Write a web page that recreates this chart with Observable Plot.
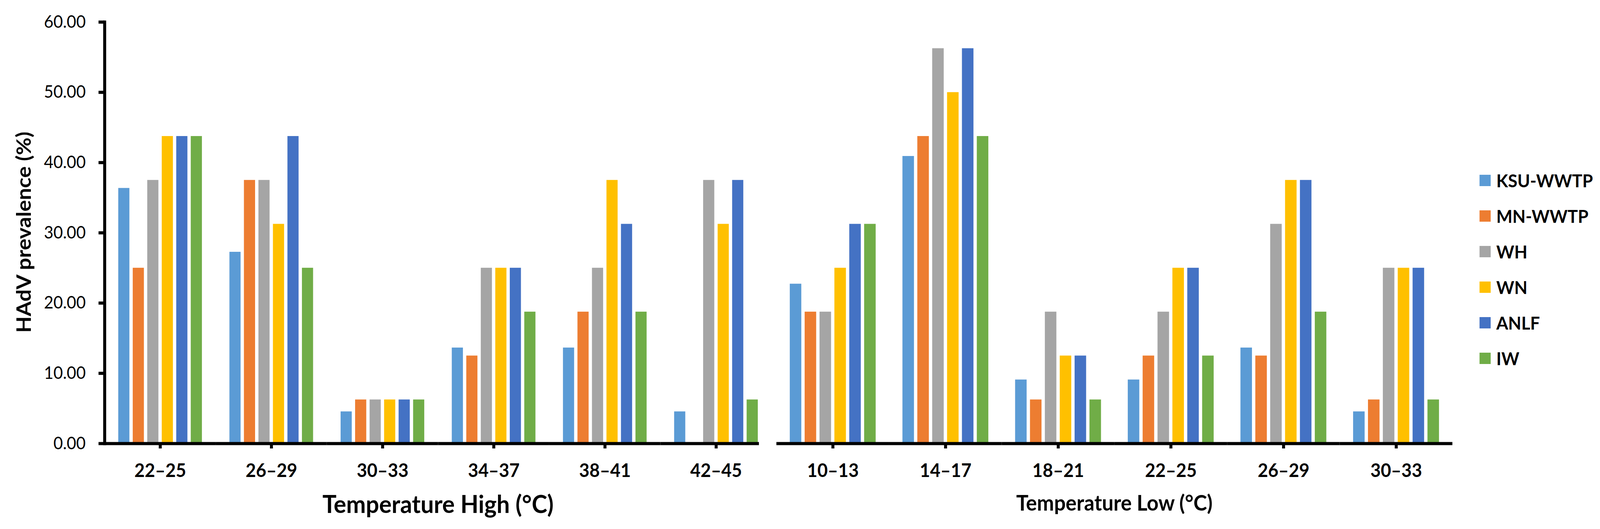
<!DOCTYPE html>
<html>
<head>
<meta charset="utf-8">
<script src="https://cdn.jsdelivr.net/npm/d3@7"></script>
<script src="https://cdn.jsdelivr.net/npm/@observablehq/plot@0.6"></script>
<style>
html, body { margin: 0; padding: 0; background: #fff; overflow: hidden; }
#root { position: absolute; left: 0; top: 0; width: 4303px; height: 1353px; overflow: hidden; font-family: Lato, sans-serif; color: #000; transform-origin: 0 0; }
.wrap { position: absolute; top: 0; height: 1353px; overflow: hidden; }
.title { position: absolute; white-space: nowrap; font-weight: 700; line-height: 1; transform: translateX(-50%); }
.ytitle { position: absolute; white-space: nowrap; font-weight: 700; line-height: 1; font-size: 55px; transform: translate(-50%, -50%) rotate(-90deg); }
#legend { position: absolute; left: 3979px; top: 416px; }
#legend .row { display: flex; align-items: center; height: 91px; }
#legend .sw { width: 30px; height: 29px; margin-right: 15px; }
#legend .lb { font-size: 46px; font-weight: 700; line-height: 1; white-space: nowrap; }
</style>
</head>
<body>
<div id="root"></div>
<script>
// ---- data ----
const series = ["KSU-WWTP", "MN-WWTP", "WH", "WN", "ANLF", "IW"];
const colors = ["#5B9BD5", "#ED7D31", "#A5A5A5", "#FFC000", "#4472C4", "#70AD47"];
const highGroups = ["22–25", "26–29", "30–33", "34–37", "38–41", "42–45"];
const lowGroups = ["10–13", "14–17", "18–21", "22–25", "26–29", "30–33"];
const yTicks = [0, 10, 20, 30, 40, 50, 60];
const highTitle = "Temperature High (°C)";
const lowTitle = "Temperature Low (°C)";
const yTitle = "HAdV prevalence (%)";

// values per series, in group order (Temperature High)
const highKSU  = [36.36, 27.27, 4.55, 13.64, 13.64, 4.55];
const highMN   = [25.00, 37.50, 6.25, 12.50, 18.75, 0.00];
const highWH   = [37.50, 37.50, 6.25, 25.00, 25.00, 37.50];
const highWN   = [43.75, 31.25, 6.25, 25.00, 37.50, 31.25];
const highANLF = [43.75, 43.75, 6.25, 25.00, 31.25, 37.50];
const highIW   = [43.75, 25.00, 6.25, 18.75, 18.75, 6.25];
// values per series, in group order (Temperature Low)
const lowKSU  = [22.73, 40.91, 9.09, 9.09, 13.64, 4.55];
const lowMN   = [18.75, 43.75, 6.25, 12.50, 12.50, 6.25];
const lowWH   = [18.75, 56.25, 18.75, 18.75, 31.25, 25.00];
const lowWN   = [25.00, 50.00, 12.50, 25.00, 37.50, 25.00];
const lowANLF = [31.25, 56.25, 12.50, 25.00, 37.50, 25.00];
const lowIW   = [31.25, 43.75, 6.25, 12.50, 18.75, 6.25];

function table(groups, cols) {
  const rows = [];
  groups.forEach((g, i) => series.forEach((s, j) => rows.push({group: g, series: s, value: cols[j][i]})));
  return rows;
}
const highRows = table(highGroups, [highKSU, highMN, highWH, highWN, highANLF, highIW]);
const lowRows = table(lowGroups, [lowKSU, lowMN, lowWH, lowWN, lowANLF, lowIW]);

function panel(rows, groups, width, marginLeft, withY) {
  const marks = [
    Plot.barY(rows, {fx: "group", x: "series", y: "value", fill: "series"}),
    Plot.ruleY([0], {stroke: "#000", strokeWidth: 8}),
    Plot.axisFx({anchor: "bottom", label: null, tickSize: 13, tickPadding: 38, strokeWidth: 8,
                 fontSize: 48, fontWeight: 700, fill: "#000"})
  ];
  if (withY) {
    marks.push(
      Plot.frame({anchor: "left", facetAnchor: "left", stroke: "#000", strokeWidth: 8}),
      Plot.axisY({ticks: yTicks, tickFormat: d3.format(".2f"), tickSize: 16, tickPadding: 35,
                  strokeWidth: 8, fontSize: 44, label: null, fill: "#000"})
    );
  }
  return Plot.plot({
    width, height: 1353,
    marginTop: 56, marginBottom: 219, marginLeft, marginRight: 0,
    style: "max-width:none;font-family:Lato,sans-serif;background:transparent;",
    fx: {domain: groups, padding: 0, label: null, axis: null},
    x: {domain: series, paddingInner: 0.22, paddingOuter: 0.86, axis: null},
    y: {domain: [0, 60], axis: null},
    color: {domain: series, range: colors},
    marks
  });
}

const root = document.getElementById("root");

const leftWrap = document.createElement("div");
leftWrap.className = "wrap";
leftWrap.style.left = "0px";
leftWrap.style.width = "2041px";
leftWrap.appendChild(panel(highRows, highGroups, 2075, 281, true));
root.appendChild(leftWrap);

const rightWrap = document.createElement("div");
rightWrap.className = "wrap";
rightWrap.style.left = "2086px";
rightWrap.style.width = "1830px";
rightWrap.appendChild(panel(lowRows, lowGroups, 1822, 0, false));
root.appendChild(rightWrap);

// axis titles
const t1 = document.createElement("div");
t1.className = "title"; t1.textContent = highTitle;
t1.style.left = "1178px"; t1.style.top = "1256px"; t1.style.fontSize = "63px";
root.appendChild(t1);

const t2 = document.createElement("div");
t2.className = "title"; t2.textContent = lowTitle;
t2.style.left = "2997px"; t2.style.top = "1258px"; t2.style.fontSize = "55px";
root.appendChild(t2);

const t3 = document.createElement("div");
t3.className = "ytitle"; t3.textContent = yTitle;
t3.style.left = "62px"; t3.style.top = "594px";
root.appendChild(t3);

// legend
const legend = document.createElement("div");
legend.id = "legend";
series.forEach((s, i) => {
  const row = document.createElement("div"); row.className = "row";
  const sw = document.createElement("div"); sw.className = "sw"; sw.style.background = colors[i];
  const lb = document.createElement("div"); lb.className = "lb"; lb.textContent = s;
  row.appendChild(sw); row.appendChild(lb); legend.appendChild(row);
});
root.appendChild(legend);

// fit the 4303x1353 composition into the actual viewport
function fit() {
  const sx = document.documentElement.clientWidth / 4303;
  const sy = document.documentElement.clientHeight / 1353;
  root.style.transform = `scale(${sx}, ${sy})`;
}
fit();
window.addEventListener("resize", fit);
</script>
</body>
</html>
